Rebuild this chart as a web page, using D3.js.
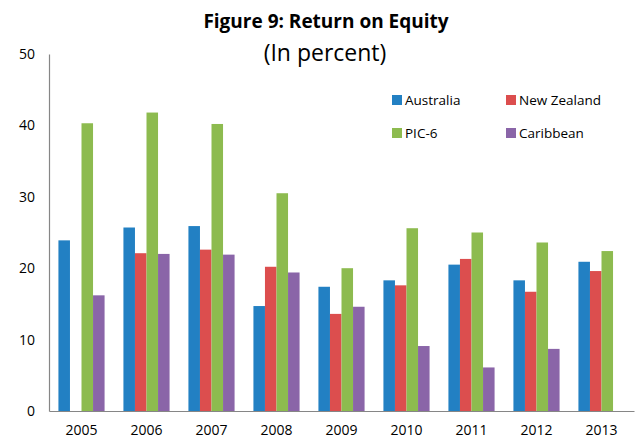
<!DOCTYPE html>
<html>
<head>
<meta charset="utf-8">
<script src="https://cdn.jsdelivr.net/npm/d3@7"></script>
<style>
  body { margin: 0; background: #fff; }
  text { font-family: "Open Sans", "Liberation Sans", sans-serif; }
</style>
</head>
<body>
<script>
const years = ["2005", "2006", "2007", "2008", "2009", "2010", "2011", "2012", "2013"];
const seriesNames = ["Australia", "New Zealand", "PIC-6", "Caribbean"];
const australia  = [23.9, 25.7, 25.9, 14.7, 17.4, 18.3, 20.5, 18.3, 20.9];
const newZealand = [null, 22.1, 22.6, 20.2, 13.6, 17.6, 21.3, 16.7, 19.6];
const pic6       = [40.3, 41.8, 40.2, 30.5, 20.0, 25.6, 25.0, 23.6, 22.4];
const caribbean  = [16.2, 22.0, 21.9, 19.4, 14.6, 9.1, 6.1, 8.7, null];
const yTicks = [0, 10, 20, 30, 40, 50];

const seriesValues = [australia, newZealand, pic6, caribbean];

const color = d3.scaleOrdinal()
    .domain(seriesNames)
    .range(["#2280c3", "#dc4e4e", "#8dbb4f", "#8a65a8"]);

const width = 635, height = 440;
const margin = {top: 54, right: 1, bottom: 29, left: 49};

const svg = d3.select("body").append("svg")
    .attr("width", width)
    .attr("height", height);

const x = d3.scaleBand()
    .domain(years)
    .range([margin.left, width - margin.right])
    .paddingInner(0.29)
    .paddingOuter(0.145);

const xSub = d3.scaleBand()
    .domain(seriesNames)
    .range([0, x.bandwidth()]);

const y = d3.scaleLinear()
    .domain([0, 50])
    .range([height - margin.bottom, margin.top]);

// bars
const rows = years.map((yr, i) => ({
    year: yr,
    vals: seriesNames.map((s, j) => ({series: s, value: seriesValues[j][i]}))
}));

const groups = svg.selectAll(".grp")
    .data(rows)
    .enter().append("g")
    .attr("class", "grp")
    .attr("transform", d => "translate(" + x(d.year) + ",0)");

groups.selectAll("rect")
    .data(d => d.vals.filter(v => v.value != null))
    .enter().append("rect")
    .attr("x", d => xSub(d.series))
    .attr("width", xSub.bandwidth())
    .attr("y", d => y(d.value))
    .attr("height", d => y(0) - y(d.value))
    .style("fill", d => color(d.series));

// axes
const yAxis = d3.axisLeft(y).tickValues(yTicks).tickSize(0).tickPadding(14);
const gy = svg.append("g")
    .attr("transform", "translate(" + margin.left + ",0)")
    .call(yAxis);
gy.select(".domain").attr("stroke", "#868686").attr("stroke-width", 1.2);
gy.selectAll("text").style("font-size", "14px").attr("fill", "#000");

const xAxis = d3.axisBottom(x).tickSize(0).tickPadding(14);
const gx = svg.append("g")
    .attr("transform", "translate(0," + y(0) + ")")
    .call(xAxis);
gx.select(".domain").attr("stroke", "#868686").attr("stroke-width", 1.2);
gx.selectAll("text").style("font-size", "14px").attr("fill", "#000");

// title
svg.append("text")
    .attr("x", 326).attr("y", 28)
    .attr("text-anchor", "middle")
    .style("font-size", "19px")
    .style("font-weight", "bold")
    .text("Figure 9: Return on Equity");

svg.append("text")
    .attr("x", 325).attr("y", 61)
    .attr("text-anchor", "middle")
    .style("font-size", "23px")
    .text("(In percent)");

// legend
const legendPos = [[392, 100], [506, 100], [392, 133], [506, 133]];
const legend = svg.selectAll(".legend")
    .data(seriesNames)
    .enter().append("g")
    .attr("class", "legend")
    .attr("transform", (d, i) => "translate(" + legendPos[i][0] + "," + legendPos[i][1] + ")");

legend.append("rect")
    .attr("x", 0).attr("y", -5)
    .attr("width", 10).attr("height", 10)
    .style("fill", d => color(d));

legend.append("text")
    .attr("x", 13).attr("y", 0)
    .attr("dy", "0.35em")
    .style("font-size", "13.5px")
    .text(d => d);
</script>
</body>
</html>
